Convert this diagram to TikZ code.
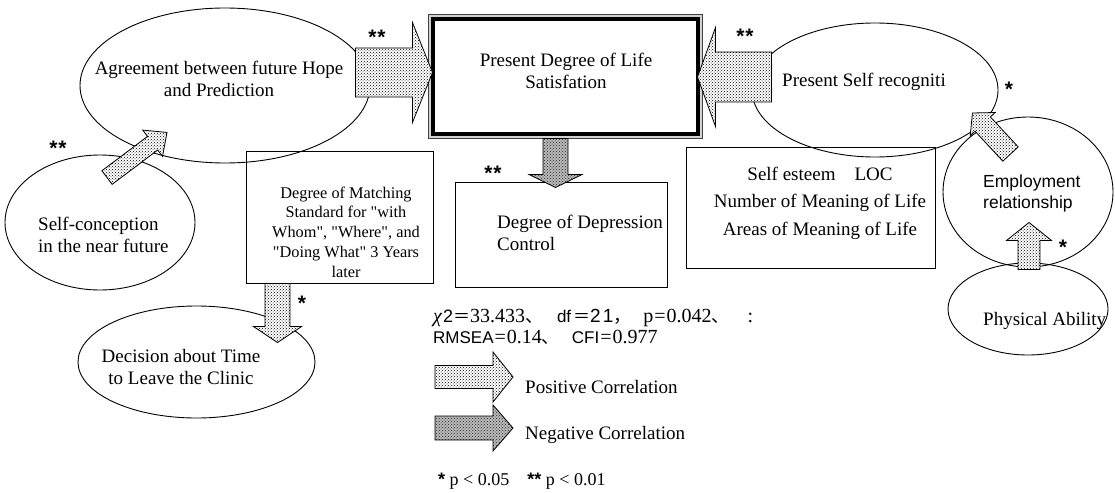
\documentclass[tikz,border=0pt]{standalone}
\usepackage{fontspec}
\setmainfont{Liberation Serif}[Ligatures=TeXOff]
\setsansfont{Liberation Sans}
\newfontfamily\cjk{Noto Sans CJK JP}
\usetikzlibrary{shapes.geometric,patterns,calc}

\newcommand\blockarrow[6]{%
  \path[#1] let \p1=(#2), \p2=(#3),
    \n1={atan2(\y2-\y1,\x2-\x1)}, \n2={veclen(\x2-\x1,\y2-\y1)} in
    ($(\p1)+({\n1+90}:#4)$)
    -- ($(\p1)+({\n1+90}:#4)+({\n1}:{\n2-#6})$)
    -- ($(\p1)+({\n1+90}:#5)+({\n1}:{\n2-#6})$)
    -- (\p2)
    -- ($(\p1)+({\n1-90}:#5)+({\n1}:{\n2-#6})$)
    -- ($(\p1)+({\n1-90}:#4)+({\n1}:{\n2-#6})$)
    -- ($(\p1)+({\n1-90}:#4)$) -- cycle;}

\begin{document}
\begin{tikzpicture}[x=1pt,y=1pt,
  ell/.style={ellipse, draw, line width=0.9pt, inner sep=0pt},
  box/.style={rectangle, draw, line width=1pt, inner sep=0pt},
  txt/.style={font=\fontsize{19}{22.5}\selectfont, align=center, inner sep=0pt},
  star/.style={font=\sffamily\bfseries\fontsize{21}{21}\selectfont, inner sep=0pt, anchor=base},
  posarrow/.style={draw=black, line width=0.8pt, preaction={fill=white}, pattern=crosshatch dots},
  negarrow/.style={draw=black, line width=0.8pt, preaction={fill=gray!55}, pattern=crosshatch dots, pattern color=black!85}]
\fill[white] (0,0) rectangle (1115,-492);
\useasboundingbox (0,0) rectangle (1115,-492);

% ellipses
\node[ell, minimum width=290pt, minimum height=155pt] (agree) at (225,-85.5) {};
\node[ell, minimum width=190pt, minimum height=135pt] (selfcon) at (100,-222.5) {};
\node[ell, minimum width=237pt, minimum height=112pt] (decision) at (196.5,-362) {};
\node[ell, minimum width=246pt, minimum height=134pt] (recog) at (875,-90) {};
\node[ell, minimum width=170pt, minimum height=150pt] (employ) at (1028,-192) {};
\node[ell, minimum width=160pt, minimum height=92pt] (phys) at (1028,-309) {};

% boxes
\node[box, minimum width=187pt, minimum height=132pt] (match) at (339.5,-217) {};
\node[box, minimum width=212pt, minimum height=105pt] (depr) at (561,-234.5) {};
\node[box, minimum width=249pt, minimum height=121pt] (esteem) at (810.5,-207.5) {};
\node[draw=black!75, line width=1pt, fill=gray!35, minimum width=274pt, minimum height=123pt, inner sep=0pt] (life) at (565,-76.5) {};
\draw[line width=4pt, fill=white] ($(life.north west)+(5,-5)$) rectangle ($(life.south east)+(-5,5)$);

% connectors (block arrows)
\coordinate (a1s) at ($(agree.east)+(-15,13)$);
\coordinate (a1e) at ($(life.west |- a1s)+(5,0)$);
\blockarrow{posarrow}{a1s}{a1e}{24.5}{50}{20}

\coordinate (a2s) at ($(recog.west)+(20,13)$);
\coordinate (a2e) at ($(life.east |- a2s)+(-5,0)$);
\blockarrow{posarrow}{a2s}{a2e}{25}{49.5}{18}

\coordinate (a3s) at ($(life.south)+(-9.5,0)$);
\coordinate (a3e) at ($(a3s |- depr.north)+(0,-6)$);
\blockarrow{negarrow}{a3s}{a3e}{12.5}{26.5}{13}

\coordinate (a4s) at ($(match.south)+(-62,0)$);
\coordinate (a4e) at ($(a4s |- decision.north)+(0,-37)$);
\blockarrow{posarrow}{a4s}{a4e}{12.5}{24}{16}

\coordinate (a5s) at ($(selfcon.north)+(7,-23)$);
\coordinate (a5e) at ($(agree.south)+(-58,31)$);
\blockarrow{posarrow}{a5s}{a5e}{8.5}{16.5}{18}

\coordinate (a6s) at ($(employ.north)+(-17.5,-37.5)$);
\coordinate (a6e) at ($(recog.east)+(-26,-23)$);
\blockarrow{posarrow}{a6s}{a6e}{10.5}{17}{15}

\coordinate (a7s) at ($(phys.north)+(1,-7)$);
\coordinate (a7e) at ($(a7s |- employ.south)+(0,45)$);
\blockarrow{posarrow}{a7s}{a7e}{11}{22.5}{18}

% texts
\node[txt] (agreeT) at (219,-79) {Agreement between future Hope\\and Prediction};
\node[txt] (lifeT) at (566,-71) {Present Degree of Life\\Satisfation};
\node[txt, font=\fontsize{16.3}{19.8}\selectfont] (matchT) at (346,-232) {Degree of Matching\\Standard for "with\\Whom", "Where", and\\"Doing What" 3 Years\\later};
\node[txt, align=left, anchor=west] (deprT) at (497,-233) {Degree of Depression\\Control};
\node[txt, font=\fontsize{19}{27.5}\selectfont] (esteemT) at (820,-203) {Self esteem\quad LOC\\Number of Meaning of Life\\Areas of Meaning of Life};
\node[txt, anchor=base west] (recogT) at (782,-87) {Present Self recogniti};
\node[txt, align=left, anchor=west, font=\sffamily\fontsize{17.5}{21}\selectfont] (employT) at (983,-193) {Employment\\relationship};
\begin{scope}
  \clip (phys.center) ellipse [x radius=80pt, y radius=46pt];
  \node[txt, anchor=base west] (physT) at (983,-325) {Physical Ability};
\end{scope}
\node[txt, align=left, anchor=west] (selfconT) at (38,-235) {Self-conception\\in the near future};
\node[txt] (decisionT) at (181,-367) {Decision about Time\\to Leave the Clinic};

% significance marks
\node[star] (s1) at (377,-45) {*\kern1pt*};
\node[star] (s2) at (58,-155) {*\kern1pt*};
\node[star] (s3) at (493,-180) {*\kern1pt*};
\node[star] (s4) at (745,-44) {*\kern1pt*};
\node[star] (s5) at (1009,-97) {*};
\node[star] (s6) at (1063,-254) {*};
\node[star] (s7) at (302,-310) {*};

% statistics
\node[anchor=base west, inner sep=0pt, font=\fontsize{20}{23}\selectfont] (stats1) at (433,-322)
  {{\itshape χ}\kern1pt{\sffamily\fontsize{18}{20}\selectfont 2}{\cjk\fontsize{17}{20}\selectfont ＝}33.433{\cjk\fontsize{18}{20}\selectfont 、}\hspace{14pt}{\sffamily\fontsize{17}{20}\selectfont df\kern2pt}{\cjk\fontsize{17}{20}\selectfont ＝}{\sffamily\fontsize{19}{20}\selectfont 2\kern2pt 1}{\cjk\fontsize{18}{20}\selectfont ，}\hspace{12pt}p\kern1pt=\kern1pt0.042{\cjk\fontsize{18}{20}\selectfont 、}\hspace{18pt}:};
\node[anchor=base west, inner sep=0pt, font=\fontsize{20}{23}\selectfont] (stats2) at (433,-343)
  {{\sffamily\fontsize{17}{20}\selectfont RMSEA}\kern1pt=\kern1pt0.14{\cjk\fontsize{18}{20}\selectfont 、}\hspace{12pt}{\sffamily\fontsize{17}{20}\selectfont CFI}\kern1pt=\kern1pt0.977};

% legend
\coordinate (lp1) at (435,-377);
\coordinate (lp2) at (513,-377);
\blockarrow{posarrow}{lp1}{lp2}{11.5}{25}{20}
\node[txt, anchor=base west] (posT) at (525,-393) {Positive Correlation};
\coordinate (ln1) at (435,-428);
\coordinate (ln2) at (513,-428);
\blockarrow{negarrow}{ln1}{ln2}{12}{23}{20}
\node[txt, anchor=base west] (negT) at (525,-439) {Negative Correlation};
\node[anchor=base west, inner sep=0pt, font=\fontsize{18}{21}\selectfont] (sig) at (438,-485)
  {{\sffamily\bfseries *} p < 0.05\quad {\sffamily\bfseries **} p < 0.01};
\end{tikzpicture}
\end{document}
